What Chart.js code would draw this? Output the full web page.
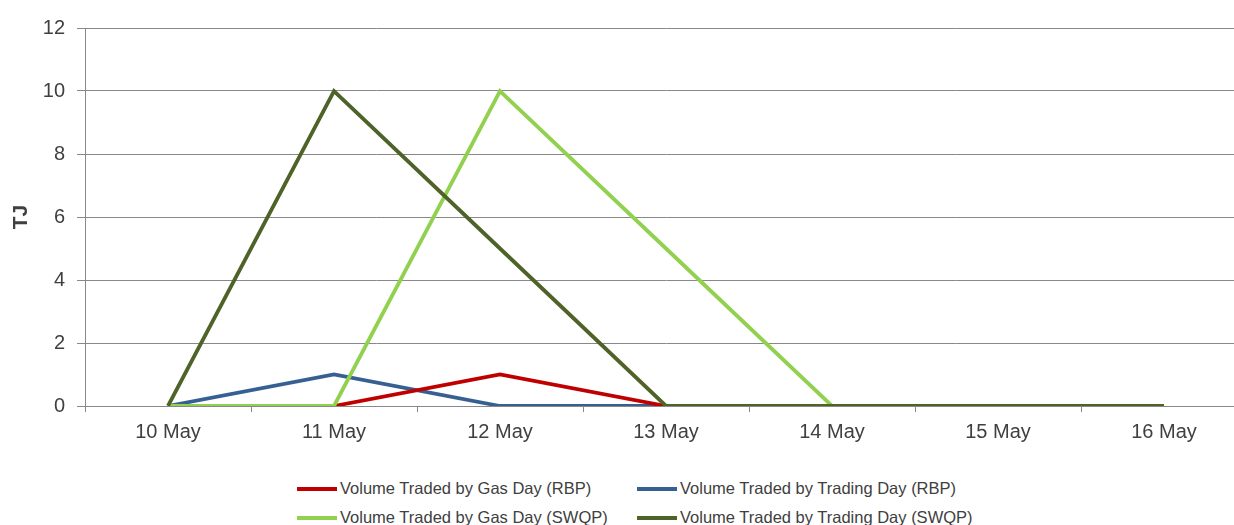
<!DOCTYPE html>
<html>
<head>
<meta charset="utf-8">
<script src="https://cdn.jsdelivr.net/npm/chart.js@4/dist/chart.umd.min.js"></script>
<style>
  html, body { margin: 0; padding: 0; background: #fff; overflow: hidden; }
  #wrap { position: relative; width: 1274px; height: 525px; }
  #chartBox { position: absolute; left: 0; top: 0; width: 1274px; height: 460px; }
  .leg { position: absolute; font: 16.5px "Liberation Sans", Arial, sans-serif; color: #404040; white-space: nowrap; line-height: 18px; }
  .leg span.sw { display: inline-block; width: 40px; height: 4px; vertical-align: middle; margin-right: 3px; position: relative; top: -1px; }
</style>
</head>
<body>
<div id="wrap">
  <div id="chartBox"><canvas id="myChart"></canvas></div>
  <div id="legend"></div>
</div>
<script>
// data
let days = ["10 May", "11 May", "12 May", "13 May", "14 May", "15 May", "16 May"];
let gasDayRBP = [0, 0, 1, 0, 0, 0, 0];
let tradingDayRBP = [0, 1, 0, 0, 0, 0, 0];
let gasDaySWQP = [0, 0, 10, 5, 0, 0, 0];
let tradingDaySWQP = [0, 10, 5, 0, 0, 0, 0];
let seriesNames = [
  "Volume Traded by Gas Day (RBP)",
  "Volume Traded by Trading Day (RBP)",
  "Volume Traded by Gas Day (SWQP)",
  "Volume Traded by Trading Day (SWQP)"
];
let seriesColors = ["#C00000", "#376092", "#92D050", "#4F6228"];

let textColor = "#404040";
let font = "'Liberation Sans', Arial, sans-serif";

function makeSet(i, data, order) {
  return {
    label: seriesNames[i],
    data: data,
    borderColor: seriesColors[i],
    backgroundColor: seriesColors[i],
    borderWidth: 3.8,
    pointRadius: 0,
    tension: 0,
    order: order,
  };
}

let ctx = document.getElementById("myChart");

let chart = new Chart(ctx, {
  type: "line",
  data: {
    labels: days,
    datasets: [
      makeSet(0, gasDayRBP, 3),
      makeSet(1, tradingDayRBP, 4),
      makeSet(2, gasDaySWQP, 2),
      makeSet(3, tradingDaySWQP, 1),
    ],
  },
  options: {
    responsive: true,
    maintainAspectRatio: false,
    animation: false,
    layout: { padding: { top: 28, right: 27, left: 0, bottom: 0 } },
    plugins: {
      legend: { display: false },
      tooltip: { enabled: false },
    },
    scales: {
      x: {
        offset: true,
        grid: {
          drawOnChartArea: false,
          offset: true,
          tickLength: 6,
          color: "#888888",
        },
        border: { color: "#888888", width: 1 },
        ticks: {
          color: textColor,
          font: { family: font, size: 20 },
          padding: 8,
          maxRotation: 0,
        },
        afterFit: (scale) => { scale.height = 54; },
      },
      y: {
        min: 0,
        max: 12,
        ticks: {
          stepSize: 2,
          color: textColor,
          font: { family: font, size: 20 },
          padding: 12,
        },
        grid: { color: "#888888", tickLength: 8, lineWidth: 1 },
        border: { color: "#888888", width: 1 },
        title: {
          display: true,
          text: "TJ",
          color: textColor,
          font: { family: font, size: 21, weight: "bold" },
          padding: { top: 9, bottom: 0 },
        },
        afterFit: (scale) => { scale.width = 85; },
      },
    },
  },
});

// legend in two rows, two columns
let legendPos = [[297, 479], [637, 479], [297, 508], [637, 508]];
let legendBox = document.getElementById("legend");
seriesNames.forEach((name, i) => {
  let d = document.createElement("div");
  d.className = "leg";
  d.style.left = legendPos[i][0] + "px";
  d.style.top = legendPos[i][1] + "px";
  d.innerHTML = '<span class="sw" style="background:' + seriesColors[i] + '"></span>' + name;
  legendBox.appendChild(d);
});
</script>
</body>
</html>
